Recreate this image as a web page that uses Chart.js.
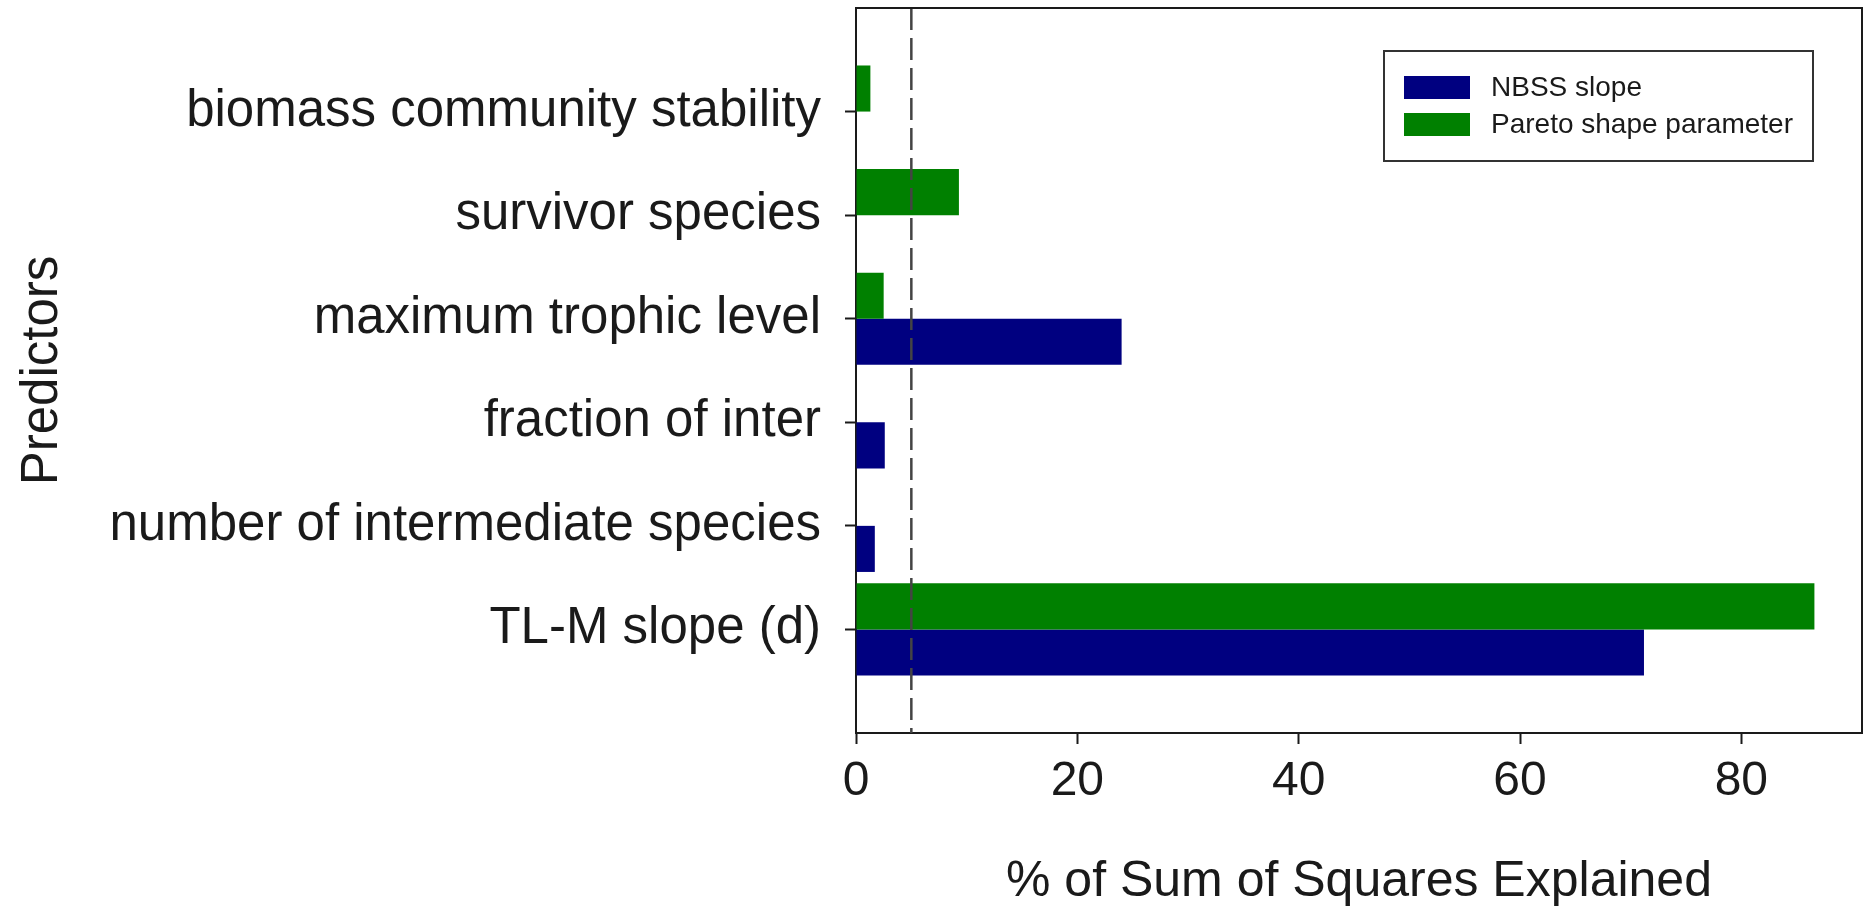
<!DOCTYPE html>
<html>
<head>
<meta charset="utf-8">
<title>% of Sum of Squares Explained</title>
<script src="https://cdn.jsdelivr.net/npm/chart.js@4.4.1/dist/chart.umd.min.js"></script>
<style>
    html, body { margin: 0; padding: 0; background: #fff; }
    .chart-container { position: relative; width: 1871px; height: 914px; }
</style>
</head>
<body>
<div class="chart-container">
    <canvas id="chartCanvas"></canvas>
</div>
<script>
// predictors, top to bottom
const predictors = [
    'biomass community stability',
    'survivor species',
    'maximum trophic level',
    'fraction of inter',
    'number of intermediate species',
    'TL-M slope (d)'
];
// % of sum of squares explained
const nbssSlope = [0, 0, 24.0, 2.6, 1.7, 71.2];
const paretoShape = [1.3, 9.3, 2.5, 0, 0, 86.6];
const xTicks = [0, 20, 40, 60, 80];
const xMax = 90.9;
const cutoffLine = 5;

const seriesNames = ['NBSS slope', 'Pareto shape parameter'];
const seriesColors = ['#000080', '#008000'];

// empty slot above and below so the categories sit one band in from the frame
const labels = [''].concat(predictors, ['']);
const pad = arr => [null].concat(arr, [null]);

const FONT = '"Liberation Sans", Arial, sans-serif';
const INK = '#1a1a1a';

const framePlugin = {
    id: 'frame',
    afterDatasetsDraw(chart) {
        const ctx = chart.ctx;
        const area = chart.chartArea;
        const x = chart.scales.x;

        ctx.save();
        // dashed reference line
        const px = x.getPixelForValue(cutoffLine);
        ctx.strokeStyle = '#444';
        ctx.lineWidth = 2.5;
        ctx.setLineDash([22, 8]);
        ctx.beginPath();
        ctx.moveTo(px, area.top);
        ctx.lineTo(px, area.bottom);
        ctx.stroke();
        ctx.setLineDash([]);

        // top and right edges of the frame
        ctx.strokeStyle = INK;
        ctx.lineWidth = 2;
        ctx.beginPath();
        ctx.moveTo(area.left, area.top);
        ctx.lineTo(area.right, area.top);
        ctx.lineTo(area.right, area.bottom);
        ctx.stroke();

        // legend box
        const box = { left: 1384, top: 51, width: 429, height: 110 };
        ctx.fillStyle = '#fff';
        ctx.fillRect(box.left, box.top, box.width, box.height);
        ctx.strokeStyle = '#333';
        ctx.lineWidth = 2;
        ctx.strokeRect(box.left, box.top, box.width, box.height);

        ctx.font = '28px ' + FONT;
        ctx.textBaseline = 'middle';
        seriesNames.forEach((name, i) => {
            const cy = 87.5 + i * 37;
            ctx.fillStyle = seriesColors[i];
            ctx.fillRect(box.left + 20, cy - 11.5, 66, 23);
            ctx.fillStyle = INK;
            ctx.fillText(name, box.left + 107, cy + 1);
        });
        ctx.restore();
    }
};

// no extra room for half-labels at the ends of the axes
function noEdgePadding(scale) {
    scale.paddingTop = 0;
    scale.paddingBottom = 0;
    scale.paddingLeft = 0;
    scale.paddingRight = 0;
}

function createChart() {
    const canvas = document.getElementById('chartCanvas');
    const ctx = canvas.getContext('2d');

    Chart.defaults.font.family = FONT;
    Chart.defaults.color = INK;

    return new Chart(ctx, {
        type: 'bar',
        data: {
            labels: labels,
            // Pareto first so it sits above NBSS in each group
            datasets: [
                {
                    label: seriesNames[1],
                    data: pad(paretoShape),
                    backgroundColor: seriesColors[1],
                    borderWidth: 0
                },
                {
                    label: seriesNames[0],
                    data: pad(nbssSlope),
                    backgroundColor: seriesColors[0],
                    borderWidth: 0
                }
            ]
        },
        options: {
            indexAxis: 'y',
            responsive: true,
            maintainAspectRatio: false,
            animation: false,
            categoryPercentage: 0.89,
            barPercentage: 1,
            layout: { padding: { top: 8, right: 9, left: 0, bottom: 0 } },
            plugins: {
                legend: { display: false },
                tooltip: { enabled: false }
            },
            scales: {
                x: {
                    type: 'linear',
                    min: 0,
                    max: xMax,
                    afterBuildTicks: scale => {
                        scale.ticks = xTicks.map(v => ({ value: v }));
                    },
                    afterFit: scale => {
                        scale.height = 181;
                        noEdgePadding(scale);
                    },
                    grid: {
                        drawOnChartArea: false,
                        drawTicks: true,
                        tickLength: 11,
                        tickWidth: 2,
                        tickColor: INK
                    },
                    border: { display: true, color: INK, width: 2 },
                    ticks: {
                        font: { size: 48 },
                        padding: 9,
                        maxRotation: 0
                    },
                    title: {
                        display: true,
                        text: '% of Sum of Squares Explained',
                        font: { size: 50 },
                        padding: { top: 0, bottom: 2 }
                    }
                },
                y: {
                    type: 'category',
                    offset: false,
                    afterFit: scale => {
                        scale.width = 856;
                        noEdgePadding(scale);
                    },
                    grid: {
                        offset: false,
                        drawOnChartArea: false,
                        drawTicks: true,
                        tickLength: 11,
                        tickWidth: 2,
                        tickColor: c => (c.tick && c.tick.label === '' ? 'rgba(0,0,0,0)' : INK)
                    },
                    border: { display: true, color: INK, width: 2 },
                    ticks: {
                        font: { size: 51 },
                        padding: 24,
                        autoSkip: false
                    },
                    title: {
                        display: true,
                        text: 'Predictors',
                        font: { size: 51 },
                        padding: { top: 12, bottom: 0 }
                    }
                }
            }
        },
        plugins: [framePlugin]
    });
}

document.addEventListener('DOMContentLoaded', () => {
    createChart();
});
</script>
</body>
</html>
